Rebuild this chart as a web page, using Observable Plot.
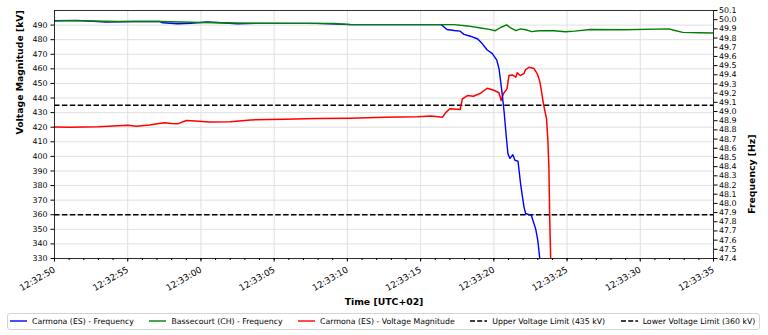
<!DOCTYPE html>
<html><head><meta charset="utf-8">
<script src="https://cdn.jsdelivr.net/npm/d3@7"></script>
<script src="https://cdn.jsdelivr.net/npm/@observablehq/plot@0.6"></script>
<style>
body{margin:0;background:#fff;font-family:"DejaVu Sans",sans-serif;}
#chart{position:absolute;left:0;top:0;}
#legend{position:absolute;left:7px;top:313px;width:753px;height:16.5px;border:1px solid #d4d4d4;border-radius:3px;box-sizing:border-box;display:flex;align-items:center;font-size:7.8px;white-space:nowrap;padding-left:2px;color:#000;}
.item{display:flex;align-items:center;margin-right:15.5px;}
.item svg{margin-right:5px;}
</style></head><body>
<div id="chart"></div><div id="legend"></div>
<script>
// ---- data (time offsets in seconds from 12:32:50, local UTC+02) ----
const startTime = "2025-04-28T12:32:50Z";
const timeSpan = 45;

const carmonaFreqT  = [0, 1.5, 3.5, 5.5, 7.2, 7.4, 8.4, 9.3, 10.4, 11.1, 12.5, 13.8, 17.9, 20.2, 26.4, 26.6, 26.8, 27.3, 27.7, 27.96, 28.4, 28.9, 29.2, 29.55, 29.9, 30.2, 30.36, 30.55, 30.7, 30.82, 30.96, 31.1, 31.3, 31.44, 31.65, 31.83, 32.06, 32.17, 32.56, 32.86, 33.0, 33.13, 33.2];
const carmonaFreqHz = [49.99, 49.992, 49.975, 49.98, 49.98, 49.966, 49.955, 49.96, 49.975, 49.97, 49.955, 49.96, 49.96, 49.946, 49.946, 49.92, 49.893, 49.882, 49.875, 49.84, 49.82, 49.79, 49.74, 49.67, 49.63, 49.56, 49.46, 49.22, 49.0, 48.78, 48.54, 48.49, 48.53, 48.47, 48.46, 48.21, 47.96, 47.89, 47.87, 47.72, 47.6, 47.41, 47.3];

const bassecourtFreqT  = [0, 1.1, 2.5, 4.3, 7.2, 10, 13.4, 17, 19.1, 20.2, 25.7, 27.3, 28.2, 29.1, 29.7, 30.1, 30.46, 30.87, 31.15, 31.5, 31.83, 32.17, 32.6, 33.08, 33.65, 34.1, 34.9, 35.5, 36.6, 38.9, 41.96, 42.3, 42.9, 44.0, 45.0];
const bassecourtFreqHz = [49.985, 49.99, 49.985, 49.98, 49.98, 49.97, 49.962, 49.96, 49.958, 49.948, 49.946, 49.946, 49.932, 49.91, 49.895, 49.88, 49.915, 49.944, 49.91, 49.88, 49.9, 49.89, 49.87, 49.88, 49.88, 49.88, 49.868, 49.875, 49.893, 49.89, 49.9, 49.885, 49.862, 49.857, 49.855];

const carmonaVoltT  = [0, 1, 2, 3, 4, 5, 5.6, 6.5, 7.0, 7.5, 8.0, 8.4, 9.0, 9.6, 10.6, 12.0, 13.4, 15.7, 17.9, 20.2, 22.5, 24.8, 25.7, 26.5, 26.7, 27.0, 27.7, 27.85, 28.2, 28.6, 29.1, 29.55, 30.0, 30.35, 30.5, 30.65, 30.9, 31.03, 31.26, 31.5, 31.6, 31.8, 32.06, 32.17, 32.4, 32.74, 32.97, 33.15, 33.3, 33.4, 33.6, 33.69, 33.76, 33.81, 33.88, 33.95];
const carmonaVoltKV = [420.2, 419.9, 420.1, 420.3, 420.9, 421.4, 420.7, 421.5, 422.3, 423.0, 422.5, 422.3, 424.6, 424.3, 423.6, 423.7, 425.0, 425.5, 426.0, 426.2, 426.8, 427.2, 427.6, 426.9, 429.8, 432.6, 432.1, 439.4, 441.7, 441.2, 443.3, 446.7, 445.3, 443.6, 438.3, 442.9, 446.3, 455.4, 455.8, 454.3, 457.3, 455.4, 456.8, 459.5, 461.1, 460.2, 456.6, 450.9, 441.7, 435.3, 425.7, 410.9, 392.6, 360.6, 330.9, 310];

const voltageLimits = [435, 360];
const voltDomain = [330, 500];
const freqDomain = [47.4, 50.1];
const voltTicks = [330, 340, 350, 360, 370, 380, 390, 400, 410, 420, 430, 440, 450, 460, 470, 480, 490];
const freqTicks = [47.4, 47.5, 47.6, 47.7, 47.8, 47.9, 48.0, 48.1, 48.2, 48.3, 48.4, 48.5, 48.6, 48.7, 48.8, 48.9, 49.0, 49.1, 49.2, 49.3, 49.4, 49.5, 49.6, 49.7, 49.8, 49.9, 50.0, 50.1];

const legendItems = [
  {label: "Carmona (ES) - Frequency", color: "blue", dash: null},
  {label: "Bassecourt (CH) - Frequency", color: "green", dash: null},
  {label: "Carmona (ES) - Voltage Magnitude", color: "red", dash: null},
  {label: "Upper Voltage Limit (435 kV)", color: "black", dash: "5,2.2"},
  {label: "Lower Voltage Limit (360 kV)", color: "black", dash: "5,2.2"}
];

// ---- helpers: map frequency onto the voltage (left) scale ----
const k = (voltDomain[1] - voltDomain[0]) / (freqDomain[1] - freqDomain[0]);
const f2v = f => Math.round((voltDomain[0] + (f - freqDomain[0]) * k) * 1e6) / 1e6;
const v2f = v => freqDomain[0] + (v - voltDomain[0]) / k;
const t0 = Date.parse(startTime);
const toDate = s => new Date(t0 + s * 1000);

const blue = carmonaFreqT.map((t, i) => ({time: toDate(t), v: f2v(carmonaFreqHz[i])}));
const green = bassecourtFreqT.map((t, i) => ({time: toDate(t), v: f2v(bassecourtFreqHz[i])}));
const red = carmonaVoltT.map((t, i) => ({time: toDate(t), v: carmonaVoltKV[i]}));

const fs = 7.9;
const chart = Plot.plot({
  width: 768,
  height: 310,
  marginLeft: 54,
  marginRight: 55,
  marginTop: 10,
  marginBottom: 52,
  style: {fontFamily: "DejaVu Sans", fontSize: fs + "px", background: "white", color: "black"},
  x: {type: "utc", domain: [toDate(0), toDate(timeSpan)]},
  y: {domain: voltDomain},
  marks: [
    Plot.gridX({ticks: d3.utcSecond.every(5), stroke: "#dcdcdc", strokeOpacity: 1, strokeWidth: 0.9}),
    Plot.gridY(voltTicks, {stroke: "#dcdcdc", strokeOpacity: 1, strokeWidth: 0.9}),
    Plot.ruleY(voltageLimits, {stroke: "black", strokeWidth: 1.4, strokeDasharray: "5.5,2.4"}),
    Plot.line(red, {x: "time", y: "v", stroke: "red", strokeWidth: 1.5, clip: true}),
    Plot.line(blue, {x: "time", y: "v", stroke: "blue", strokeWidth: 1.4, clip: true}),
    Plot.line(green, {x: "time", y: "v", stroke: "green", strokeWidth: 1.4, clip: true}),
    Plot.frame({stroke: "black", strokeWidth: 0.8}),
    Plot.axisX({ticks: d3.utcSecond.every(1), tickSize: 2, tickFormat: () => "", label: null}),
    Plot.axisX({ticks: d3.utcSecond.every(5), tickSize: 3.5, tickPadding: 7, tickRotate: -30, tickFormat: d3.utcFormat("%H:%M:%S"), label: null, fontSize: 8.8}),
    Plot.axisY(voltTicks, {anchor: "left", tickSize: 3.5, tickPadding: 3.5, label: null, fontSize: fs}),
    Plot.axisY(freqTicks.map(f2v), {anchor: "right", tickSize: 3.5, tickPadding: 2, tickFormat: d => v2f(d).toFixed(1), label: null, fontSize: fs}),
    Plot.text(["Time [UTC+02]"], {frameAnchor: "bottom", dy: 46, fontWeight: "bold", fontSize: 9.3}),
    Plot.text(["Voltage Magnitude [kV]"], {frameAnchor: "left", dx: -34, rotate: -90, fontWeight: "bold", fontSize: 9.3}),
    Plot.text(["Frequency [Hz]"], {frameAnchor: "right", dx: 39, rotate: -90, fontWeight: "bold", fontSize: 9.3})
  ]
});
document.getElementById("chart").appendChild(chart);

const legend = document.getElementById("legend");
for (const it of legendItems) {
  const div = document.createElement("div");
  div.className = "item";
  div.innerHTML = `<svg width="17" height="6"><line x1="0" y1="3" x2="17" y2="3" stroke="${it.color}" stroke-width="1.4" ${it.dash ? `stroke-dasharray="${it.dash}"` : ""}/></svg><span>${it.label}</span>`;
  legend.appendChild(div);
}
</script>
</body></html>
